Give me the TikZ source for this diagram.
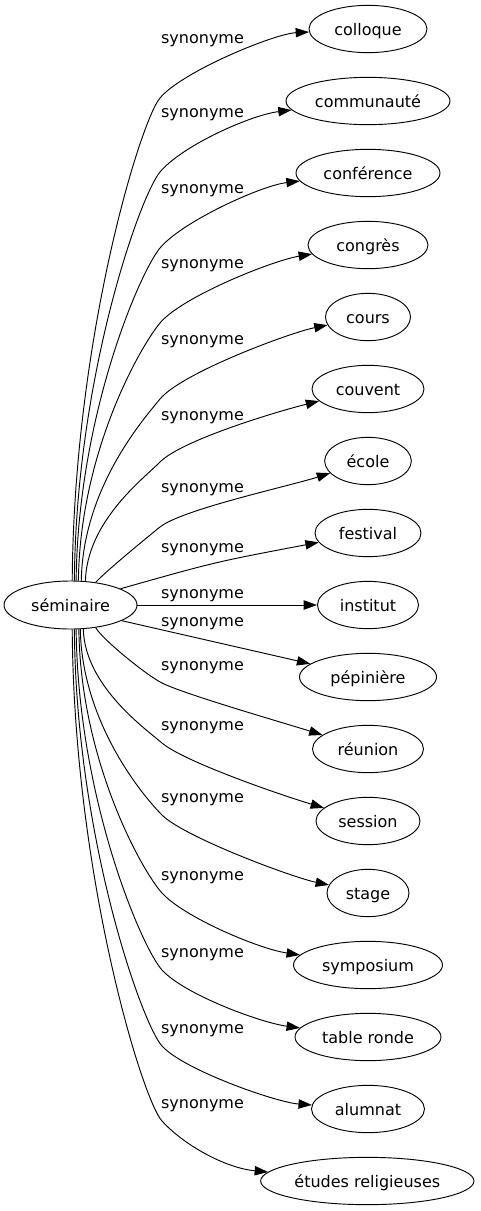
\documentclass[tikz,border=0pt]{standalone}
\usepackage{fontspec}
\setmainfont{DejaVu Sans}
\usetikzlibrary{arrows.meta,shapes.geometric}
\begin{document}
\begin{tikzpicture}[x=0.75pt,y=-0.75pt,
  every node/.style={font=\fontsize{12pt}{14pt}\selectfont},
  nd/.style={draw, ellipse, inner sep=0pt, minimum height=35.5pt, text height=9pt, text depth=0pt, line width=0.7pt},
  lbl/.style={anchor=base, inner sep=0pt},
  arr/.style={line width=0.7pt, -{Triangle[length=10pt,width=7pt]}}]
\path[fill=white,use as bounding box] (0,0) rectangle (480,1211);
% nodes
\node[nd, minimum width=99.75pt, minimum height=36pt] (sem) at (70.5,605) {séminaire};
\node[nd, minimum width=88.5pt]  (t1)  at (368,29)   {colloque};
\node[nd, minimum width=123pt]   (t2)  at (368,101)  {communauté};
\node[nd, minimum width=108pt]   (t3)  at (368,173)  {conférence};
\node[nd, minimum width=90pt]    (t4)  at (368,245)  {congrès};
\node[nd, minimum width=63.75pt] (t5)  at (368,317)  {cours};
\node[nd, minimum width=84pt]    (t6)  at (368,389)  {couvent};
\node[nd, minimum width=65pt]    (t7)  at (368,461)  {école};
\node[nd, minimum width=79.5pt]  (t8)  at (368,533)  {festival};
\node[nd, minimum width=75.75pt] (t9)  at (368,605)  {institut};
\node[nd, minimum width=102.75pt](t10) at (368,677)  {pépinière};
\node[nd, minimum width=83.25pt] (t11) at (368,749)  {réunion};
\node[nd, minimum width=78pt]    (t12) at (368,821)  {session};
\node[nd, minimum width=61.5pt]  (t13) at (368,893)  {stage};
\node[nd, minimum width=111.75pt](t14) at (368,965)  {symposium};
\node[nd, minimum width=109.5pt] (t15) at (368,1037) {table ronde};
\node[nd, minimum width=84.75pt] (t16) at (368,1109) {alumnat};
\node[nd, minimum width=160pt]   (t17) at (367.3,1181) {études religieuses};
% labels
\node[lbl] (l1)  at (202.5,43.5)  {synonyme};
\node[lbl] (l2)  at (202.5,117.5) {synonyme};
\node[lbl] (l3)  at (202.5,193.5) {synonyme};
\node[lbl] (l4)  at (202.5,268.5) {synonyme};
\node[lbl] (l5)  at (202.5,344.5) {synonyme};
\node[lbl] (l6)  at (202.5,420.5) {synonyme};
\node[lbl] (l7)  at (202.5,492.5) {synonyme};
\node[lbl] (l8)  at (202.5,552.5) {synonyme};
\node[lbl] (l9)  at (202.5,598.5) {synonyme};
\node[lbl] (l10) at (202.5,626)   {synonyme};
\node[lbl] (l11) at (202.5,670.5) {synonyme};
\node[lbl] (l12) at (202.5,730.5) {synonyme};
\node[lbl] (l13) at (202.5,802.5) {synonyme};
\node[lbl] (l14) at (202.5,880.5) {synonyme};
\node[lbl] (l15) at (202.5,957.5) {synonyme};
\node[lbl] (l16) at (202.5,1033.5){synonyme};
\node[lbl] (l17) at (202.5,1108.5){synonyme};
% waypoints
\coordinate (w1) at (160,98);
\coordinate (w2) at (160,172);
\coordinate (w3) at (160,248);
\coordinate (w4) at (160,323);
\coordinate (w5) at (160,399);
\coordinate (w6) at (160,462);
\coordinate (w7) at (160,527);
\coordinate (w11) at (162,683);
\coordinate (w12) at (162,743);
\coordinate (w13) at (162,815);
\coordinate (w14) at (162,893);
\coordinate (w15) at (162,970);
\coordinate (w16) at (162,1046);
\coordinate (w17) at (162,1121);
% upper edges
\draw[arr] (sem.86.4) .. controls (74,339.5) and (140,122) .. (w1) .. controls (182,71.6) and (274,33.8) .. (t1);
\draw[arr] (sem.81.7) .. controls (76,376.5) and (140,196) .. (w2) .. controls (182,145.6) and (251,114.9) .. (t2);
\draw[arr] (sem.77.1) .. controls (78,414.7) and (140,272) .. (w3) .. controls (182,221.6) and (261,185.6) .. (t3);
\draw[arr] (sem.72.5) .. controls (80,452.1) and (140,347) .. (w4) .. controls (182,296.6) and (273,260.4) .. (t4);
\draw[arr] (sem.66.1) .. controls (83,490.2) and (140,423) .. (w5) .. controls (182,372.6) and (290.5,332.5) .. (t5);
\draw[arr] (sem.58.2) .. controls (87,521.8) and (142,480) .. (w6) .. controls (182,440) and (277,411.5) .. (t6);
\draw[arr] (sem.42.3) .. controls (105,572) and (148,536.6) .. (w7) .. controls (182,509.4) and (289.7,486) .. (t7);
\draw[arr] (sem.18) .. controls (215,562) .. (t8);
\draw[arr] (sem) -- (t9);
\draw[arr] (sem.-17) -- (t10);
% lower edges
\draw[arr] (sem.-42.3) .. controls (103,640) and (147,675.5) .. (w11) .. controls (184,694) and (277,720.9) .. (t11);
\draw[arr] (sem.-62) .. controls (85,685.8) and (145,728.5) .. (w12) .. controls (184,761.7) and (281,795.1) .. (t12);
\draw[arr] (sem.-68.2) .. controls (82,721.9) and (142,795) .. (w13) .. controls (184,837) and (292,877.3) .. (t13);
\draw[arr] (sem.-71.4) .. controls (80.5,760.9) and (142,871) .. (w14) .. controls (184,917.2) and (258.5,948.8) .. (t14);
\draw[arr] (sem.-77.1) .. controls (78,799.3) and (142,948) .. (w15) .. controls (184,994.2) and (260,1022.6) .. (t15);
\draw[arr] (sem.-81.7) .. controls (76,837.5) and (142,1024) .. (w16) .. controls (184,1070.2) and (276.5,1102.4) .. (t16);
\draw[arr] (sem.-86.4) .. controls (74,875) and (142,1099) .. (w17) .. controls (184,1145.2) and (225.6,1168.1) .. (t17);
\end{tikzpicture}
\end{document}
